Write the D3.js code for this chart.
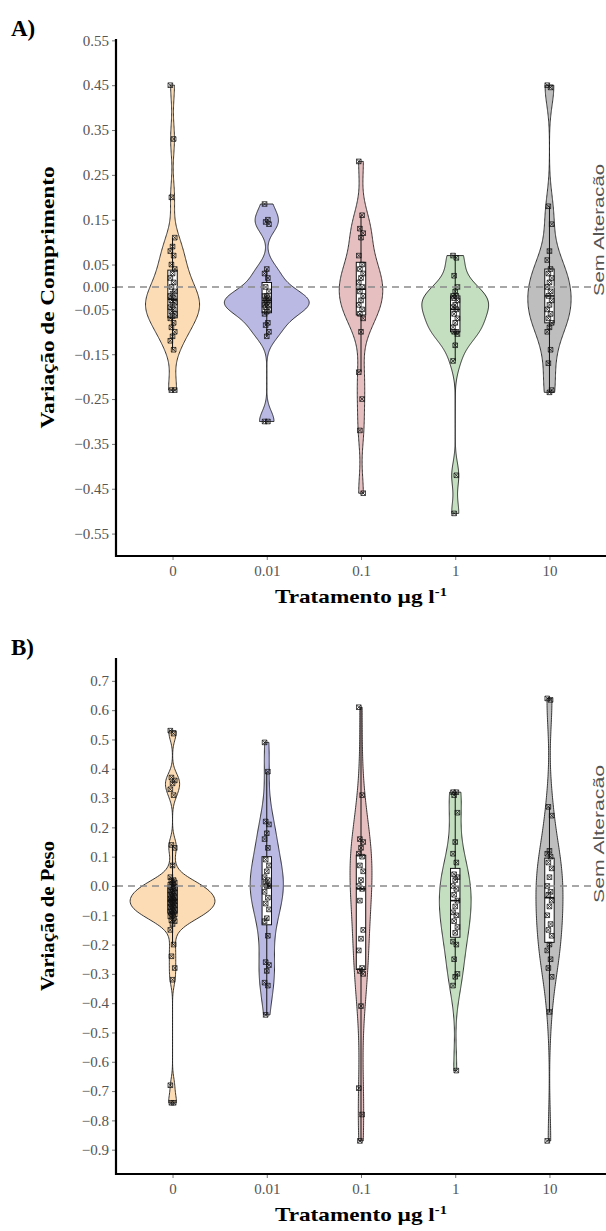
<!DOCTYPE html>
<html>
<head>
<meta charset="utf-8">
<script src="https://cdn.jsdelivr.net/npm/d3@7"></script>
<style>
  body { margin: 0; background: #fff; }
  text { font-family: "Liberation Serif", "Times New Roman", serif; }
</style>
</head>
<body>
<svg width="606" height="1231"></svg>
<script>
const width = 606;
const height = 1231;

const categories = ["0", "0.01", "0.1", "1", "10"];
const fills = ["#fcdcb5", "#b9b9e4", "#e6bfc0", "#c3dfc0", "#bebebe"];

// A) variação de comprimento, one array per tratamento
const len_0 = [0.45, 0.33, 0.20, 0.11, 0.09, 0.08, 0.07, 0.05, 0.04, 0.03, 0.02, 0.01, 0.0, -0.01, -0.015, -0.02, -0.025, -0.03, -0.035, -0.04, -0.045, -0.05, -0.055, -0.06, -0.065, -0.07, -0.08, -0.09, -0.10, -0.11, -0.12, -0.14, -0.23, -0.23];
const len_001 = [0.185, 0.15, 0.145, 0.14, 0.04, 0.03, 0.02, 0.0, -0.01, -0.02, -0.02, -0.025, -0.03, -0.03, -0.035, -0.04, -0.04, -0.045, -0.05, -0.055, -0.06, -0.08, -0.085, -0.10, -0.11, -0.30, -0.30];
const len_01 = [0.28, 0.16, 0.13, 0.12, 0.11, 0.07, 0.05, 0.04, 0.03, 0.02, 0.01, 0.0, -0.01, -0.02, -0.03, -0.04, -0.05, -0.06, -0.07, -0.10, -0.19, -0.25, -0.32, -0.46];
const len_1 = [0.07, 0.065, 0.025, 0.0, -0.01, -0.02, -0.02, -0.025, -0.03, -0.04, -0.045, -0.05, -0.06, -0.07, -0.08, -0.09, -0.10, -0.10, -0.105, -0.13, -0.165, -0.42, -0.505];
const len_10 = [0.45, 0.445, 0.18, 0.14, 0.08, 0.06, 0.04, 0.03, 0.02, 0.01, 0.0, -0.01, -0.02, -0.03, -0.04, -0.05, -0.06, -0.07, -0.08, -0.09, -0.10, -0.14, -0.17, -0.23, -0.235];

// B) variação de peso
const peso_0 = [0.53, 0.52, 0.37, 0.36, 0.35, 0.33, 0.31, 0.14, 0.13, 0.07, 0.03, 0.02, 0.018, 0.012, 0.008, 0.005, 0.0, -0.004, -0.008, -0.01, -0.015, -0.018, -0.02, -0.022, -0.027, -0.03, -0.033, -0.036, -0.04, -0.042, -0.045, -0.048, -0.05, -0.052, -0.055, -0.058, -0.06, -0.063, -0.066, -0.07, -0.072, -0.075, -0.078, -0.08, -0.084, -0.088, -0.09, -0.095, -0.098, -0.10, -0.104, -0.11, -0.118, -0.12, -0.13, -0.15, -0.20, -0.24, -0.28, -0.32, -0.68, -0.74, -0.74];
const peso_001 = [0.49, 0.39, 0.22, 0.21, 0.18, 0.16, 0.13, 0.09, 0.07, 0.05, 0.03, 0.02, 0.01, 0.0, 0.0, -0.02, -0.04, -0.06, -0.08, -0.11, -0.12, -0.17, -0.26, -0.27, -0.29, -0.33, -0.34, -0.44];
const peso_01 = [0.61, 0.31, 0.16, 0.15, 0.13, 0.11, 0.10, 0.07, 0.05, 0.02, 0.0, -0.01, -0.05, -0.15, -0.18, -0.22, -0.28, -0.29, -0.30, -0.41, -0.69, -0.78, -0.87];
const peso_1 = [0.32, 0.32, 0.31, 0.25, 0.15, 0.11, 0.08, 0.04, 0.03, 0.02, 0.0, -0.01, -0.03, -0.05, -0.07, -0.09, -0.10, -0.12, -0.14, -0.16, -0.19, -0.20, -0.25, -0.30, -0.31, -0.34, -0.63];
const peso_10 = [0.64, 0.635, 0.27, 0.24, 0.12, 0.11, 0.10, 0.08, 0.06, 0.03, 0.0, -0.02, -0.03, -0.05, -0.07, -0.10, -0.13, -0.15, -0.17, -0.20, -0.22, -0.25, -0.28, -0.31, -0.43, -0.87];

const ticksA = [0.55, 0.45, 0.35, 0.25, 0.15, 0.05, 0.00, -0.05, -0.15, -0.25, -0.35, -0.45, -0.55];
const ticksB = [0.7, 0.6, 0.5, 0.4, 0.3, 0.2, 0.1, 0.0, -0.1, -0.2, -0.3, -0.4, -0.5, -0.6, -0.7, -0.8, -0.9];

const svg = d3.select("svg");

function nrd0(v) {
  const s = d3.deviation(v);
  const iqr = d3.quantile(v, 0.75) - d3.quantile(v, 0.25);
  let lo = Math.min(s, iqr / 1.34);
  if (!lo) lo = s || Math.abs(v[0]) || 1;
  return 0.9 * lo * Math.pow(v.length, -0.2);
}

function kde(values) {
  const v = values.slice().sort(d3.ascending);
  const bw = nrd0(v);
  const lo = v[0], hi = v[v.length - 1];
  const n = 256;
  return d3.range(n).map(i => {
    const x = lo + (hi - lo) * i / (n - 1);
    const d = d3.mean(v, xi => Math.exp(-0.5 * ((x - xi) / bw) ** 2)) / (bw * Math.sqrt(2 * Math.PI));
    return { v: x, d: d };
  });
}

function drawPanel(series, ticks, tickFmt, domain, top, bottom, tag, yTitle, titleLen, noteShift, noteLen) {
  const left = 116, right = 606;
  const x = d3.scalePoint().domain(categories).range([left, right]).padding(0.6);
  const step = x.step();
  const y = d3.scaleLinear().domain(domain).range([bottom, top]);
  const g = svg.append("g");

  const dens = series.map(kde);
  const maxD = d3.max(dens, ds => d3.max(ds, d => d.d));

  // violins
  dens.forEach((ds, i) => {
    const cx = x(categories[i]);
    const area = d3.area()
      .y(d => y(d.v))
      .x0(d => cx - d.d / maxD * 0.45 * step)
      .x1(d => cx + d.d / maxD * 0.45 * step);
    g.append("path")
      .attr("d", area(ds))
      .attr("fill", fills[i])
      .attr("stroke", "#222")
      .attr("stroke-width", 0.9);
  });

  // boxplots
  series.forEach((vals, i) => {
    const v = vals.slice().sort(d3.ascending);
    const cx = x(categories[i]);
    const q1 = d3.quantile(v, 0.25), q2 = d3.quantile(v, 0.5), q3 = d3.quantile(v, 0.75);
    const iqr = q3 - q1;
    const wLo = d3.min(v.filter(d => d >= q1 - 1.5 * iqr));
    const wHi = d3.max(v.filter(d => d <= q3 + 1.5 * iqr));
    const bw = 0.1 * step / 2;
    g.append("line").attr("x1", cx).attr("x2", cx).attr("y1", y(q3)).attr("y2", y(wHi))
      .attr("stroke", "#111").attr("stroke-width", 1);
    g.append("line").attr("x1", cx).attr("x2", cx).attr("y1", y(q1)).attr("y2", y(wLo))
      .attr("stroke", "#111").attr("stroke-width", 1);
    g.append("rect").attr("x", cx - bw).attr("width", 2 * bw)
      .attr("y", y(q3)).attr("height", y(q1) - y(q3))
      .attr("fill", "#fff").attr("stroke", "#111").attr("stroke-width", 1);
    g.append("line").attr("x1", cx - bw).attr("x2", cx + bw).attr("y1", y(q2)).attr("y2", y(q2))
      .attr("stroke", "#111").attr("stroke-width", 1.6);
  });

  // points, square with cross
  const sym = "M-2.3,-2.3h4.6v4.6h-4.6z M-2.3,-2.3L2.3,2.3 M2.3,-2.3L-2.3,2.3";
  series.forEach((vals, i) => {
    const cx = x(categories[i]);
    g.append("g").selectAll("path")
      .data(vals)
      .join("path")
      .attr("d", sym)
      .attr("transform", (d, j) => `translate(${cx + ((j * 3) % 5 - 2) * 1.1},${y(d)})`)
      .attr("fill", "none")
      .attr("stroke", "#111")
      .attr("stroke-width", 1)
      .attr("opacity", 0.75);
  });

  // reference line at zero
  g.append("line")
    .attr("x1", left).attr("x2", 594)
    .attr("y1", y(0)).attr("y2", y(0))
    .attr("stroke", "#8a8a8a").attr("stroke-width", 1.5)
    .attr("stroke-dasharray", "7,5");
  g.append("text")
    .attr("transform", `translate(604,${y(0) + noteShift}) rotate(-90)`)
    .attr("text-anchor", "start")
    .style("font-family", "'Liberation Sans', Arial, sans-serif")
    .attr("font-size", 15)
    .attr("fill", "#555")
    .attr("textLength", noteLen).attr("lengthAdjust", "spacingAndGlyphs")
    .text("Sem Alteracão");

  // axes
  const yAxis = g.append("g")
    .attr("transform", `translate(${left},0)`)
    .call(d3.axisLeft(y).tickValues(ticks).tickFormat(tickFmt).tickSize(4).tickPadding(3));
  yAxis.select(".domain").remove();
  yAxis.selectAll(".tick line").attr("stroke", "#777");
  yAxis.selectAll(".tick text")
    .attr("font-family", null)
    .style("font-family", "'Liberation Serif', 'Times New Roman', serif")
    .attr("font-size", 15).attr("fill", "#555");
  g.append("line").attr("x1", left).attr("x2", left).attr("y1", top).attr("y2", bottom + 1)
    .attr("stroke", "#000").attr("stroke-width", 2.2);

  const xAxis = g.append("g")
    .attr("transform", `translate(0,${bottom})`)
    .call(d3.axisBottom(x).tickSize(4).tickPadding(5));
  xAxis.select(".domain").remove();
  xAxis.selectAll(".tick line").attr("stroke", "#777");
  xAxis.selectAll(".tick text")
    .attr("font-family", null)
    .style("font-family", "'Liberation Serif', 'Times New Roman', serif")
    .attr("font-size", 15).attr("fill", "#555");
  g.append("line").attr("x1", left - 1).attr("x2", right).attr("y1", bottom).attr("y2", bottom)
    .attr("stroke", "#000").attr("stroke-width", 2.2);

  // titles
  const xt = g.append("text")
    .attr("x", 361).attr("y", bottom + 47)
    .attr("text-anchor", "middle")
    .attr("font-size", 19).attr("font-weight", "bold")
    .attr("textLength", 172).attr("lengthAdjust", "spacingAndGlyphs");
  xt.append("tspan").text("Tratamento µg l");
  xt.append("tspan").attr("dy", -7).attr("font-size", 12).text("-1");

  g.append("text")
    .attr("transform", `translate(54,${(top + bottom) / 2}) rotate(-90)`)
    .attr("text-anchor", "middle")
    .attr("font-size", 19).attr("font-weight", "bold")
    .attr("textLength", titleLen).attr("lengthAdjust", "spacingAndGlyphs")
    .text(yTitle);

  g.append("text")
    .attr("x", 11).attr("y", top - 3)
    .attr("font-size", 23).attr("font-weight", "bold")
    .text(tag);
}

drawPanel([len_0, len_001, len_01, len_1, len_10], ticksA, d3.format(".2f"),
  [-0.6, 0.553], 39, 556, "A)", "Variação de Comprimento", 262, 9, 132);
drawPanel([peso_0, peso_001, peso_01, peso_1, peso_10], ticksB, d3.format(".1f"),
  [-0.983, 0.778], 658, 1174, "B)", "Variação de Peso", 150, 17, 138);
</script>
</body>
</html>
